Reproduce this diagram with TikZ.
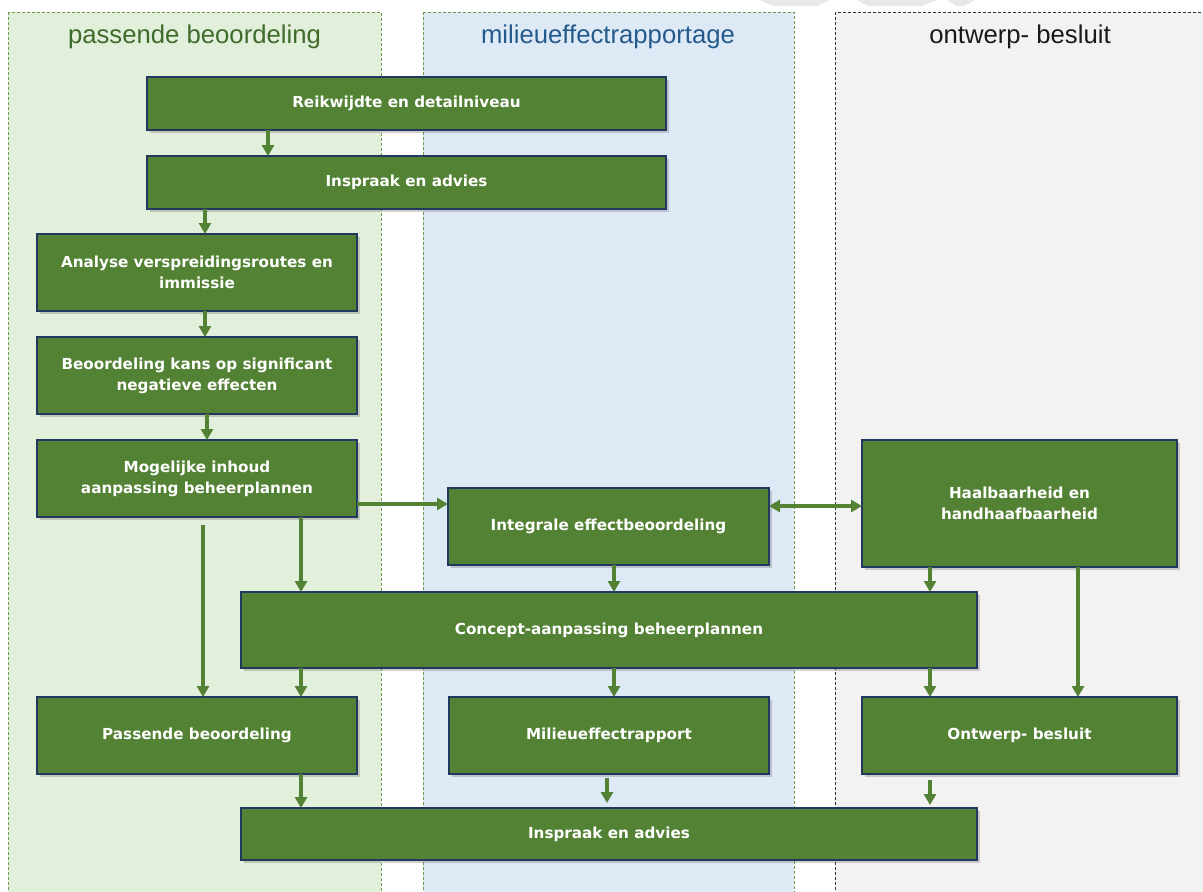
\documentclass[tikz,border=0pt]{standalone}
\usepackage{fontspec}
\setmainfont{Liberation Sans}
\newfontfamily\boxfont{DejaVu Sans}
\usetikzlibrary{arrows.meta,shadows}
\definecolor{boxgreen}{HTML}{548235}
\definecolor{boxedge}{HTML}{22385F}
\definecolor{lanegreen}{HTML}{E2EFDA}
\definecolor{laneblue}{HTML}{DDEAF6}
\definecolor{lanegrey}{HTML}{F2F2F2}
\definecolor{laneedge}{HTML}{6A9A4A}
\definecolor{titlegreen}{HTML}{3F6B2C}
\definecolor{titleblue}{HTML}{245A8C}
\definecolor{wmgrey}{HTML}{E8E8E8}
\tikzset{
  stepbox/.style={draw=boxedge, line width=1.2pt, fill=boxgreen, text=white,
    font=\boxfont\bfseries\fontsize{15.2}{21}\selectfont, align=center,
    inner sep=0pt, outer sep=0pt,
    drop shadow={shadow xshift=2.5pt, shadow yshift=-2.5pt, opacity=0.3, fill=black!60}},
  lane/.style={line width=0.8pt, dash pattern=on 3pt off 2pt},
  lanetitle/.style={font=\fontsize{25.7}{30}\selectfont, anchor=center, inner sep=0pt},
  arr/.style={draw=boxgreen, line width=3.4pt, -{Triangle[length=11pt,width=12pt]}},
  darr/.style={draw=boxgreen, line width=3.4pt, {Triangle[length=11pt,width=12pt]}-{Triangle[length=11pt,width=12pt]}},
}
\begin{document}
\begin{tikzpicture}[x=1pt,y=-1pt]
\useasboundingbox (0,0) rectangle (1203,892);
\fill[white] (0,0) rectangle (1203,892);
% watermark fragments
\fill[wmgrey] (760,0) -- (830,0) -- (817,6) -- (773,6) -- cycle;
\fill[wmgrey] (857,0) -- (937,0) -- (922,6) -- (868,6) -- cycle;
\fill[wmgrey] (947,0) -- (975,0) -- (964,6) -- (956,6) -- cycle;
% lanes
\draw[lane, draw=laneedge, fill=lanegreen] (8,12) rectangle (381,900);
\draw[lane, draw=laneedge, fill=laneblue] (423,12) rectangle (794,900);
\draw[lane, draw=black!80, fill=lanegrey] (835,12) rectangle (1210,900);
\node[lanetitle, text=titlegreen] (t1) at (194.5,37) {passende beoordeling};
\node[lanetitle, text=titleblue] (t2) at (608,37) {milieueffectrapportage};
\node[lanetitle, text=black!90] (t3) at (1020,37) {ontwerp- besluit};
% boxes
\node[stepbox, minimum width=519pt, minimum height=53pt] (reik) at (406.5,103.5) {Reikwijdte en detailniveau};
\node[stepbox, minimum width=519pt, minimum height=53pt] (insp1) at (406.5,182.5) {Inspraak en advies};
\node[stepbox, minimum width=320pt, minimum height=77pt] (ana) at (197,272.5) {Analyse verspreidingsroutes en\\immissie};
\node[stepbox, minimum width=320pt, minimum height=77pt] (beo) at (197,375.5) {Beoordeling kans op significant\\negatieve effecten};
\node[stepbox, minimum width=320pt, minimum height=77pt] (mog) at (197,478.5) {Mogelijke inhoud\\aanpassing beheerplannen};
\node[stepbox, minimum width=321pt, minimum height=77pt] (int) at (608.5,526.5) {Integrale effectbeoordeling};
\node[stepbox, minimum width=315pt, minimum height=127pt] (haal) at (1019.5,503.5) {Haalbaarheid en\\handhaafbaarheid};
\node[stepbox, minimum width=736pt, minimum height=76pt] (conc) at (609,630) {Concept-aanpassing beheerplannen};
\node[stepbox, minimum width=320pt, minimum height=77pt] (pass) at (197,735.5) {Passende beoordeling};
\node[stepbox, minimum width=320pt, minimum height=77pt] (mer) at (609,735.5) {Milieueffectrapport};
\node[stepbox, minimum width=315pt, minimum height=77pt] (ontw) at (1019.5,735.5) {Ontwerp- besluit};
\node[stepbox, minimum width=736pt, minimum height=52pt] (insp2) at (609,834) {Inspraak en advies};
% column coordinates
\coordinate (c203) at (203,0);
\coordinate (c205) at (205,0);
\coordinate (c207) at (207,0);
\coordinate (c268) at (268,0);
\coordinate (c301) at (301,0);
\coordinate (c614) at (614,0);
\coordinate (c930) at (930,0);
\coordinate (c1078) at (1078,0);
\coordinate (r504) at (0,504);
\coordinate (r506) at (0,506);
\coordinate (gapA) at (203,525);
\coordinate (gapB) at (607,778);
\coordinate (gapBe) at (607,803);
\coordinate (gapC) at (930,780);
\coordinate (gapCe) at (930,805);
% connectors
\draw[arr] (reik.south -| c268) -- (insp1.north -| c268);
\draw[arr] (insp1.south -| c205) -- (ana.north -| c205);
\draw[arr] (ana.south -| c205) -- (beo.north -| c205);
\draw[arr] (beo.south -| c207) -- (mog.north -| c207);
\draw[arr] (mog.east |- r504) -- (int.west |- r504);
\draw[darr] (int.east |- r506) -- (haal.west |- r506);
\draw[arr] (mog.south -| c301) -- (conc.north -| c301);
\draw[arr] (gapA) -- (pass.north -| c203);
\draw[arr] (int.south -| c614) -- (conc.north -| c614);
\draw[arr] (haal.south -| c930) -- (conc.north -| c930);
\draw[arr] (haal.south -| c1078) -- (ontw.north -| c1078);
\draw[arr] (conc.south -| c301) -- (pass.north -| c301);
\draw[arr] (conc.south -| c614) -- (mer.north -| c614);
\draw[arr] (conc.south -| c930) -- (ontw.north -| c930);
\draw[arr] (pass.south -| c301) -- (insp2.north -| c301);
\draw[arr] (gapB) -- (gapBe);
\draw[arr] (gapC) -- (gapCe);
\end{tikzpicture}
\end{document}
